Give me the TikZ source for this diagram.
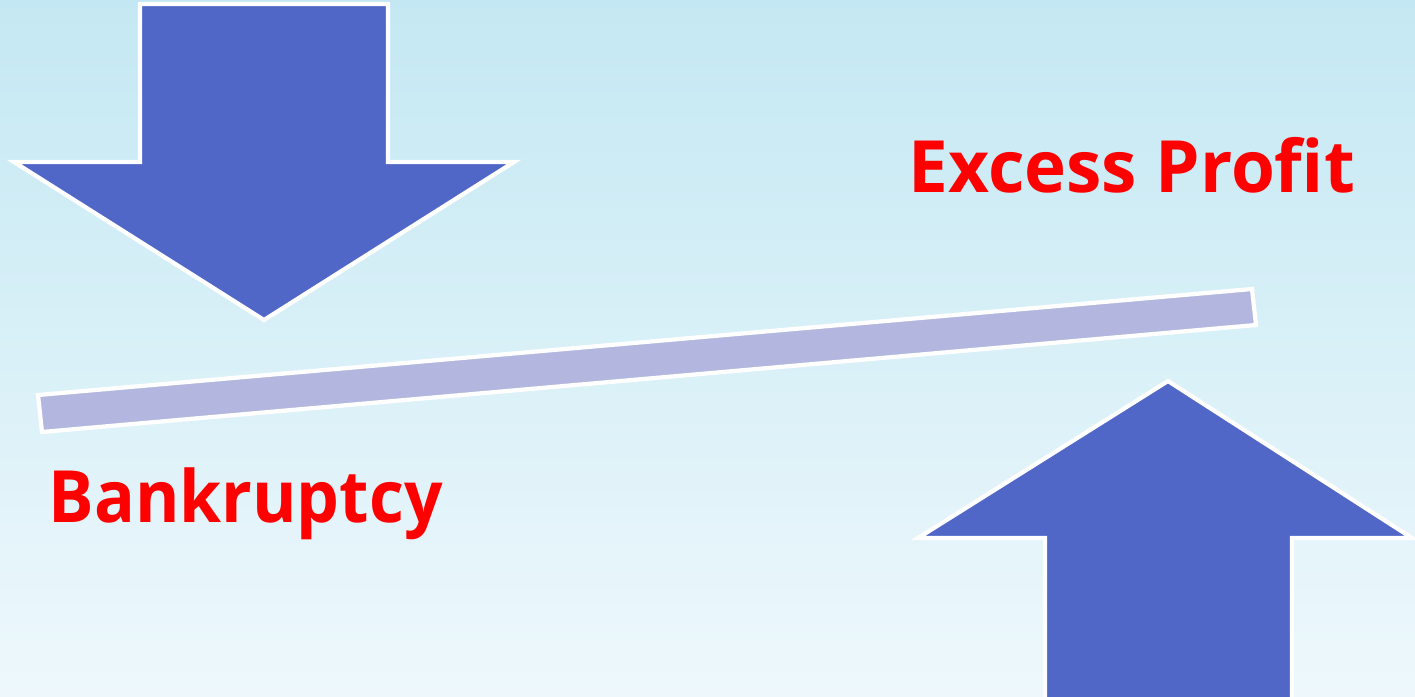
\documentclass[tikz,border=0pt]{standalone}
\usepackage{fontspec}
\setmainfont{Open Sans}
\usepackage{xcolor}
\usepackage{tikz}
\usetikzlibrary{calc}

\definecolor{skytop}{HTML}{C4E8F3}
\definecolor{skybot}{HTML}{EEF8FC}
\definecolor{arrowblue}{HTML}{5067C8}
\definecolor{beamlav}{HTML}{B3B7DF}

\begin{document}
\begin{tikzpicture}[x=0.01cm, y=-0.01cm,
  bigarrow/.style={fill=arrowblue, draw=white, line width=1.2pt},
  beam/.style={fill=beamlav, draw=white, line width=1.2pt},
  label/.style={text=red, font=\bfseries\fontsize{20.5}{24}\selectfont, inner sep=0pt}]
  \useasboundingbox (0,0) rectangle (1415,697);
  \shade[top color=skytop, bottom color=skybot] (0,0) rectangle (1415,697);

  \draw[bigarrow] (140,4) -- (388,4) -- (388,162) -- (514,162) -- (264,320)
    -- (14,162) -- (140,162) -- cycle;
  \draw[bigarrow] (1168,381) -- (1412,538) -- (1292,538) -- (1292,700)
    -- (1045,700) -- (1045,538) -- (918,538) -- cycle;

  \draw[beam] (38,395) -- (1252,289) -- (1256,325) -- (42,432) -- cycle;

  \node[label, anchor=base west, xscale=0.985, transform shape] (profit) at (908,192) {Excess Profit};
  \node[label, anchor=base west, xscale=0.94, transform shape] (bankrupt) at (48,522) {Bankruptcy};
\end{tikzpicture}
\end{document}
